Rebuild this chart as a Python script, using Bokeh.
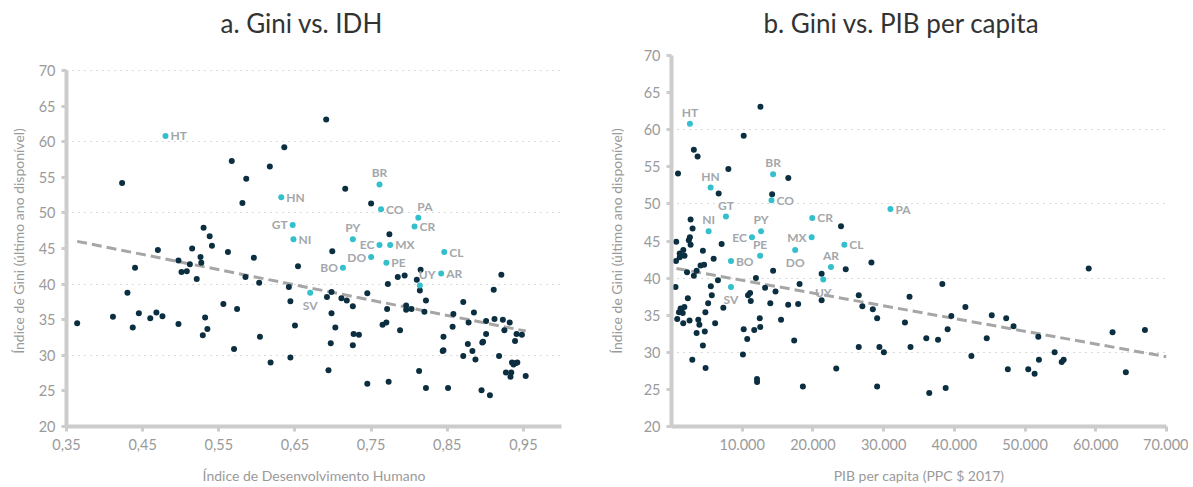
from bokeh.plotting import figure
from bokeh.models import ColumnDataSource, Range1d, FixedTicker
from bokeh.layouts import row
from bokeh.embed import file_html
from bokeh.resources import INLINE
from bokeh.core.properties import value

FONT = "Lato"

# ---------------- data ----------------
lac_codes = ["HT", "HN", "GT", "NI", "SV", "BR", "CO", "PA", "CR", "PY",
             "EC", "MX", "CL", "DO", "PE", "BO", "AR", "UY"]
lac_idh = [0.480, 0.632, 0.647, 0.648, 0.670, 0.761, 0.763, 0.812, 0.807, 0.726,
           0.761, 0.775, 0.846, 0.750, 0.770, 0.713, 0.842, 0.814]
lac_pib = [2600, 5530, 7700, 5250, 8410, 14370, 14140, 30960, 19900, 12670,
           11380, 19820, 24440, 17490, 12530, 8410, 22550, 21460]
lac_gini = [60.8, 52.2, 48.3, 46.3, 38.8, 54.0, 50.5, 49.3, 48.1, 46.3,
            45.5, 45.5, 44.5, 43.8, 43.0, 42.3, 41.5, 39.8]

oth_idh = [0.423, 0.567, 0.586, 0.581, 0.617, 0.636, 0.530, 0.538, 0.541, 0.515,
           0.470, 0.562, 0.596, 0.497, 0.512, 0.526, 0.527, 0.440, 0.654, 0.501,
           0.508, 0.521, 0.585, 0.603, 0.642, 0.430, 0.364, 0.411, 0.437, 0.445,
           0.460, 0.468, 0.476, 0.497, 0.532, 0.529, 0.535, 0.556, 0.574, 0.570,
           0.604, 0.618, 0.644, 0.650, 0.644, 0.691, 0.716, 0.750, 0.774, 0.699,
           0.815, 0.785, 0.794, 0.810, 0.772, 0.814, 0.698, 0.692, 0.711, 0.718,
           0.745, 0.726, 0.822, 0.796, 0.796, 0.803, 0.771, 0.871, 0.820, 0.858,
           0.885, 0.878, 0.857, 0.698, 0.765, 0.770, 0.703, 0.788, 0.921, 0.911,
           0.901, 0.912, 0.923, 0.932, 0.925, 0.941, 0.948, 0.901, 0.727, 0.734,
           0.845, 0.939, 0.697, 0.877, 0.896, 0.897, 0.726, 0.883, 0.844, 0.845,
           0.871, 0.887, 0.918, 0.935, 0.937, 0.940, 0.942, 0.694, 0.813, 0.927,
           0.934, 0.933, 0.953, 0.745, 0.773, 0.822, 0.851, 0.895, 0.906]
oth_gini_a = [54.2, 57.3, 54.8, 51.4, 56.5, 59.2, 47.9, 46.7, 45.4, 45.0,
              44.8, 44.5, 43.7, 43.3, 42.8, 43.8, 43.0, 42.3, 42.5, 41.7,
              41.8, 40.7, 41.0, 40.2, 39.6, 38.8, 34.5, 35.4, 33.9, 35.9,
              35.2, 36.0, 35.5, 34.4, 35.3, 32.8, 33.7, 37.2, 36.5, 30.9,
              32.6, 29.0, 37.6, 34.2, 29.7, 63.1, 53.4, 51.3, 47.0, 44.6,
              42.0, 41.0, 41.2, 40.6, 40.0, 39.1, 38.9, 38.2, 38.0, 37.7,
              38.7, 36.9, 37.7, 37.0, 36.4, 36.5, 36.5, 37.5, 36.1, 35.8,
              36.0, 34.6, 34.0, 35.9, 34.3, 34.6, 33.9, 33.5, 41.3, 39.2,
              34.8, 35.1, 35.0, 34.6, 33.5, 33.0, 32.9, 33.0, 33.0, 32.9,
              32.6, 32.0, 31.7, 31.6, 31.8, 31.9, 31.4, 30.6, 30.6, 30.7,
              29.9, 29.4, 29.9, 29.0, 28.7, 28.9, 29.0, 27.9, 27.8, 27.6,
              27.6, 27.0, 27.1, 26.0, 26.3, 25.4, 25.4, 25.1, 24.4]

oth_pib = [12580, 10210, 3160, 3690, 8040, 920, 16520, 6670, 14230, 2700,
           23970, 2980, 2600, 2450, 670, 2700, 7090, 1670, 4440, 1160,
           1840, 1160, 640, 5960, 28270, 24640, 14370, 4110, 4610, 3550,
           2200, 3160, 6570, 11940, 21230, 570, 5560, 13230, 14710, 18110,
           10820, 11110, 5700, 2310, 11210, 13970, 16500, 17910, 5180, 1820,
           1280, 1350, 1060, 1590, 7330, 4790, 810, 1660, 2550, 3790,
           3940, 6170, 12480, 15490, 3550, 4710, 10210, 11700, 12550, 10710,
           4440, 17350, 2940, 10100, 4820, 12090, 12100, 18580, 21230, 26480,
           26990, 29080, 26480, 29400, 30030, 23300, 29080, 28470,
           59000, 38300, 33660, 41560, 33010, 39570, 45290, 47330, 48370, 39050,
           36030, 37690, 44580, 33800, 51870, 62370, 66950, 42410, 51960, 54180,
           55180, 55460, 47560, 50450, 51350, 64250, 38770, 36450]
oth_gini_b = [63.1, 59.2, 57.3, 56.4, 54.7, 54.1, 53.5, 51.4, 51.3, 47.9,
              47.0, 46.7, 45.5, 45.1, 44.9, 44.5, 44.6, 43.8, 43.7, 43.3,
              43.0, 42.8, 42.3, 42.6, 42.1, 41.2, 41.0, 41.7, 41.8, 41.0,
              40.8, 40.3, 39.7, 40.0, 40.6, 38.8, 38.9, 38.7, 38.2, 39.2,
              37.7, 38.0, 37.7, 37.3, 36.9, 36.6, 36.4, 36.5, 36.6, 36.1,
              35.9, 35.6, 35.4, 35.3, 36.0, 35.4, 34.5, 33.9, 34.3, 34.4,
              33.7, 33.9, 34.6, 34.4, 32.6, 32.8, 33.1, 33.0, 33.4, 31.8,
              30.9, 31.6, 29.0, 29.7, 27.9, 26.4, 26.0, 25.4, 37.0, 37.7,
              36.2, 34.6, 30.7, 30.7, 30.0, 27.8, 25.4, 35.8,
              41.3, 39.2, 37.5, 36.1, 34.0, 34.9, 35.0, 34.6, 33.5, 33.1,
              31.9, 31.7, 31.9, 30.7, 32.1, 32.7, 33.0, 29.5, 29.0, 30.0,
              28.7, 29.0, 27.7, 27.7, 27.1, 27.3, 25.2, 24.5]

trend_a_x = [0.364, 0.953]
trend_a_y = [46.0, 33.4]
trend_b_x = [700, 70000]
trend_b_y = [41.3, 29.4]

y_ticks = [20, 25, 30, 35, 40, 45, 50, 55, 60, 65, 70]
y_grid_ticks = [30, 40, 50, 60, 70]
xa_ticks = [0.35, 0.45, 0.55, 0.65, 0.75, 0.85, 0.95]
xa_labels = ["0,35", "0,45", "0,55", "0,65", "0,75", "0,85", "0,95"]
xb_ticks = [10000, 20000, 30000, 40000, 50000, 60000, 70000]
xb_labels = ["10.000", "20.000", "30.000", "40.000", "50.000", "60.000", "70.000"]

title_a = "a. Gini vs. IDH"
title_b = "b. Gini vs. PIB per capita"
xlabel_a = "Índice de Desenvolvimento Humano"
xlabel_b = "PIB per capita (PPC $ 2017)"
ylabel = "Índice de Gini (último ano disponível)"

# label placement styles (r=right, l=left, a=above, b=below, ar=above-right)
pos_a = {"HT": "r", "HN": "r", "GT": "l", "NI": "r", "SV": "b", "BR": "a", "CO": "r",
         "PA": "ar", "CR": "r", "PY": "a", "EC": "l", "MX": "r", "CL": "r", "DO": "l",
         "PE": "r", "BO": "l", "AR": "r", "UY": "ar"}
pos_b = {"HT": "a", "HN": "a", "GT": "a", "NI": "a", "SV": "b", "BR": "a", "CO": "r",
         "PA": "r", "CR": "r", "PY": "a", "EC": "l", "MX": "l", "CL": "r", "DO": "b",
         "PE": "a", "BO": "r", "AR": "a", "UY": "b"}
STYLE = {"r": (5, 0, "left", "middle"), "l": (-5, 0, "right", "middle"),
         "a": (0, -4, "center", "bottom"), "b": (0, 5, "center", "top"),
         "ar": (-1, -4, "left", "bottom")}

DARK = "#0b2f40"
CYAN = "#33bfcb"
GRAY_TXT = "#9a9a9a"
LBL = "#a3a7ab"
AXIS = "#cccccc"


def make_panel(title, title_off, lac_x, oth_x, oth_y, xr, y_top, xticks, xlabels, xlabel,
               tx, ty, pos, bl, br, ylab_standoff):
    p = figure(frame_width=495, frame_height=371,
               x_range=Range1d(*xr), y_range=Range1d(20, y_top),
               output_backend="svg", toolbar_location=None,
               min_border_left=bl, min_border_top=55,
               min_border_right=br, min_border_bottom=58)
    p.outline_line_color = None
    p.background_fill_color = "white"
    p.border_fill_color = "white"
    p.xgrid.visible = False
    p.ygrid.ticker = FixedTicker(ticks=y_grid_ticks)
    p.ygrid.grid_line_color = "#b5b5b5"
    p.ygrid.grid_line_dash = "1 5"
    p.ygrid.grid_line_width = 1

    p.title.text = title
    p.title.align = "left"
    p.title.offset = title_off
    p.title.text_font = FONT
    p.title.text_font_size = "26px"
    p.title.text_font_style = "normal"
    p.title.text_color = "#333333"
    p.title.standoff = 0
    p.title.padding = dict(left=0, right=0, top=0, bottom=17)

    p.yaxis.ticker = FixedTicker(ticks=y_ticks)
    p.yaxis.bounds = (20, 70)
    p.xaxis.ticker = FixedTicker(ticks=xticks)
    p.xaxis.major_label_overrides = {t: s for t, s in zip(xticks, xlabels)}
    for ax in (p.xaxis[0], p.yaxis[0]):
        ax.axis_line_color = AXIS
        ax.axis_line_width = 4
        ax.major_tick_line_color = AXIS
        ax.major_tick_line_width = 3
        ax.major_tick_out = 5
        ax.major_tick_in = 0
        ax.minor_tick_out = 0
        ax.minor_tick_in = 0
        ax.major_label_text_font = FONT
        ax.major_label_text_font_size = "14.5px"
        ax.major_label_text_color = GRAY_TXT
        ax.axis_label_text_font = FONT
        ax.axis_label_text_font_size = "14px"
        ax.axis_label_text_font_style = "normal"
        ax.axis_label_text_color = GRAY_TXT
    p.xaxis.axis_label = xlabel
    p.yaxis.axis_label = ylabel
    p.xaxis.major_label_standoff = 7
    p.xaxis.axis_label_standoff = 14
    p.yaxis.major_label_standoff = 6
    p.yaxis.axis_label_standoff = ylab_standoff

    p.line(tx, ty, line_color="#a6a6a6", line_width=3, line_dash="10 5")
    p.scatter(oth_x, oth_y, size=6, fill_color=DARK, line_color=None)
    p.scatter(lac_x, lac_gini, size=6, fill_color=CYAN, line_color=None)

    xo, yo, al, bs = [], [], [], []
    for c in lac_codes:
        s = STYLE[pos[c]]
        xo.append(s[0]); yo.append(s[1]); al.append(s[2]); bs.append(s[3])
    src = ColumnDataSource(dict(x=lac_x, y=lac_gini, t=lac_codes, xo=xo, yo=yo, al=al, bs=bs))
    p.text(x="x", y="y", text="t", x_offset="xo", y_offset="yo",
           text_align="al", text_baseline="bs", source=src,
           text_font=value(FONT), text_font_style="bold",
           text_font_size="12px", text_color=LBL)
    return p


# left frame spans page y 55..426; y=70 sits at page y 70, so the range top is 72.1
pa = make_panel(title_a, 154, lac_idh, oth_idh, oth_gini_a, (0.35, 1.0), 72.1, xa_ticks,
                xa_labels, xlabel_a, trend_a_x, trend_a_y, pos_a, 66, 39, 9)
pb = make_panel(title_b, 92, lac_pib, oth_pib, oth_gini_b, (0, 70000), 70, xb_ticks,
                xb_labels, xlabel_b, trend_b_x, trend_b_y, pos_b, 71, 22, 16)

layout = row(pa, pb)
open("out.html", "w").write(file_html(layout, INLINE))
